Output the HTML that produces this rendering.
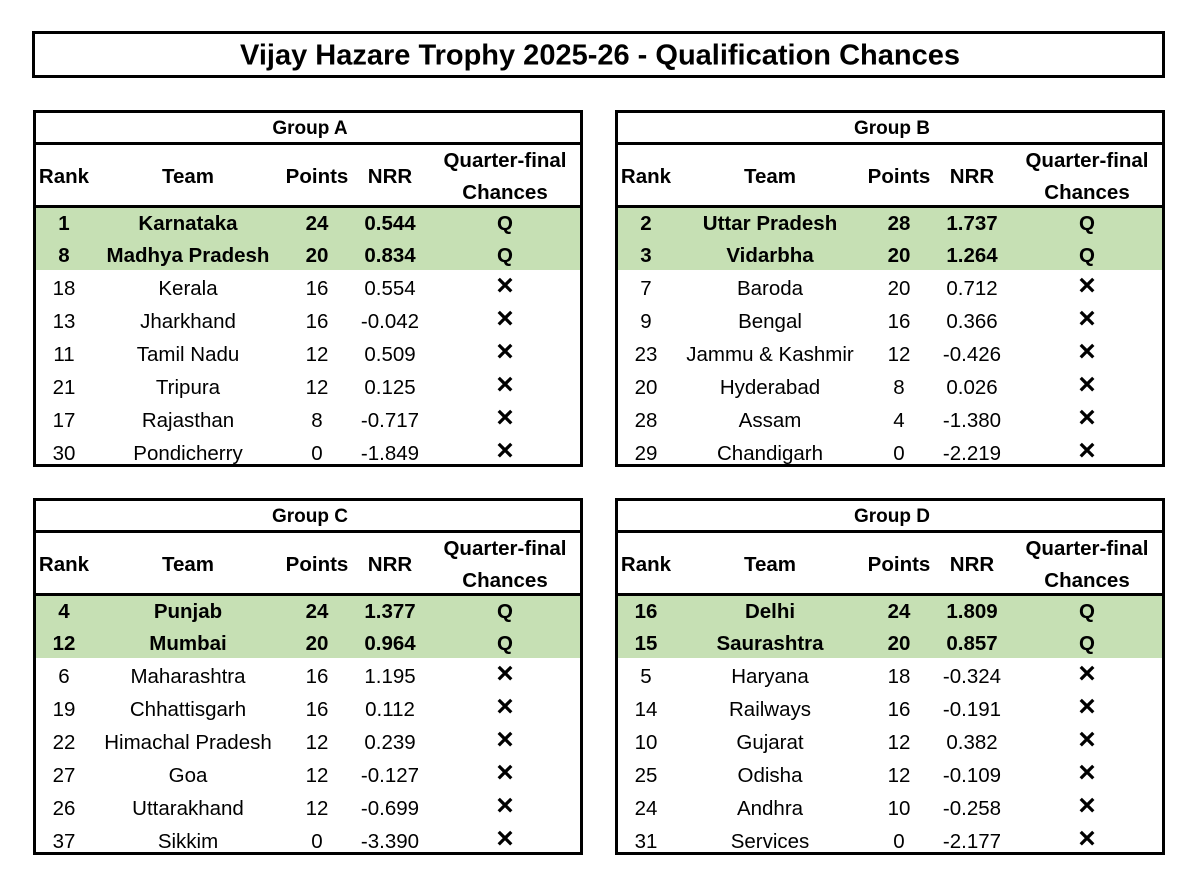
<!DOCTYPE html>
<html><head><meta charset="utf-8"><style>
body{margin:0;width:1200px;height:887px;background:#fff;position:relative;overflow:hidden;font-family:"Liberation Sans","DejaVu Sans",sans-serif;color:#000}
.box{position:absolute;border:3px solid #000;box-sizing:border-box}
.t{position:absolute;transform:translate(-50%,-50%);white-space:nowrap;font-size:20.5px}
.b{font-weight:bold}
.hl{position:absolute;height:3px;background:#000}
.g{position:absolute;background:#c6e0b4}
</style></head><body>
<div class="box" style="left:32px;top:31px;width:1133px;height:47px"></div>
<div class="t b" style="left:600px;top:56px;font-size:29px">Vijay Hazare Trophy 2025-26 - Qualification Chances</div>
<script>
const groups=["A","B","C","D"];
const ranks=[[1,8,18,13,11,21,17,30],[2,3,7,9,23,20,28,29],[4,12,6,19,22,27,26,37],[16,15,5,14,10,25,24,31]];
const teams=[["Karnataka","Madhya Pradesh","Kerala","Jharkhand","Tamil Nadu","Tripura","Rajasthan","Pondicherry"],
["Uttar Pradesh","Vidarbha","Baroda","Bengal","Jammu & Kashmir","Hyderabad","Assam","Chandigarh"],
["Punjab","Mumbai","Maharashtra","Chhattisgarh","Himachal Pradesh","Goa","Uttarakhand","Sikkim"],
["Delhi","Saurashtra","Haryana","Railways","Gujarat","Odisha","Andhra","Services"]];
const points=[[24,20,16,16,12,12,8,0],[28,20,20,16,12,8,4,0],[24,20,16,16,12,12,12,0],[24,20,18,16,12,12,10,0]];
const nrr=[["0.544","0.834","0.554","-0.042","0.509","0.125","-0.717","-1.849"],
["1.737","1.264","0.712","0.366","-0.426","0.026","-1.380","-2.219"],
["1.377","0.964","1.195","0.112","0.239","-0.127","-0.699","-3.390"],
["1.809","0.857","-0.324","-0.191","0.382","-0.109","-0.258","-2.177"]];
const qualified=[2,2,2,2];
const cols=[31,155,284,357,472];
function el(cls,style,txt,name){const d=document.createElement('div');d.className=cls;d.style.cssText=style;if(txt!==undefined)d.textContent=txt;


document.body.appendChild(d);return d;}
groups.forEach((g,i)=>{
 const x0=i%2?615:33, y0=i<2?110:498;
 el('g',`left:${x0}px;top:${y0+97}px;width:549px;height:${qualified[i]*31.5}px`,undefined,'qualified-highlight-'+g);
 el('box',`left:${x0}px;top:${y0}px;width:550px;height:357px`,undefined,'group-'+g+'-table');
 el('hl',`left:${x0}px;top:${y0+32}px;width:550px`,undefined,'group-title-divider');
 el('hl',`left:${x0}px;top:${y0+95}px;width:550px`,undefined,'header-divider');
 el('t b',`left:${x0+277}px;top:${y0+19}px;font-size:19px`,'Group '+g,'group-'+g+'-title');
 const hy=y0+67;
 el('t b',`left:${x0+cols[0]}px;top:${hy}px`,'Rank','rank-header');
 el('t b',`left:${x0+cols[1]}px;top:${hy}px`,'Team','team-header');
 el('t b',`left:${x0+cols[2]}px;top:${hy}px`,'Points','points-header');
 el('t b',`left:${x0+cols[3]}px;top:${hy}px`,'NRR','nrr-header');
 el('t b',`left:${x0+cols[4]}px;top:${hy-16}px`,'Quarter-final','qf-header');
 el('t b',`left:${x0+cols[4]}px;top:${hy+16}px`,'Chances','qf-header-2');
 ranks[i].forEach((r,j)=>{
  const q=j<qualified[i];
  const cy=y0+114+j*31.5+(j>=2?1.5*(j-1):0);
  const c=q?'t b':'t';
  el(c,`left:${x0+cols[0]}px;top:${cy}px`,r,'rank-cell');
  el(c,`left:${x0+cols[1]}px;top:${cy}px`,teams[i][j],'team-cell');
  el(c,`left:${x0+cols[2]}px;top:${cy}px`,points[i][j],'points-cell');
  el(c,`left:${x0+cols[3]}px;top:${cy}px`,nrr[i][j],'nrr-cell');
  if(q) el('t b',`left:${x0+cols[4]}px;top:${cy}px`,'Q','qualified-mark');
  else el('t b',`left:${x0+cols[4]}px;top:${cy-3}px;font-size:23px;-webkit-text-stroke:1px #000`,'✕','eliminated-mark');
 });
});
</script>
</body></html>
